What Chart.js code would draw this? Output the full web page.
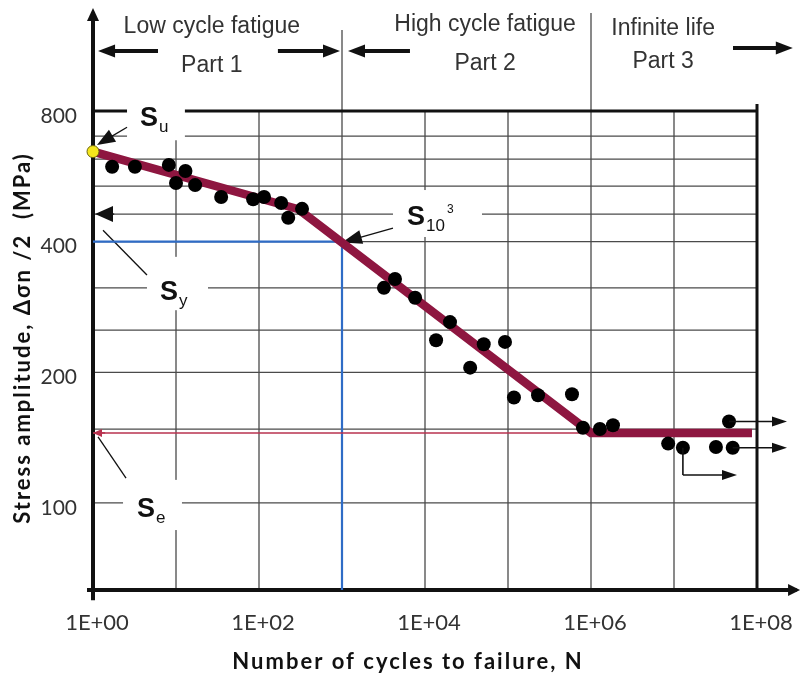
<!DOCTYPE html>
<html>
<head>
<meta charset="utf-8">
<script src="https://cdn.jsdelivr.net/npm/chart.js@4.4.1/dist/chart.umd.min.js"></script>
<style>
  html, body { margin: 0; padding: 0; background: #fff; }
</style>
</head>
<body>
<canvas id="snChart" width="801" height="683"></canvas>
<script>
"use strict";

// ─── Data ────────────────────────────────────────────────
// test results (cycles to failure, stress amplitude in MPa)
const testCycles = [1.7, 3.2, 8.2, 13, 10, 17, 35, 85, 115, 185, 225, 330,
  3200, 4350, 7600, 13600, 20000, 35000, 51000, 92000,
  118000, 230000, 590000, 800000, 1.28e6, 1.84e6,
  8.5e6, 1.28e7, 3.2e7, 5.1e7, 4.6e7];
const testStress = [595, 595, 601, 582, 546, 540, 507, 501, 507, 491, 454, 476,
  313, 328, 297, 237, 261, 205, 232, 235,
  175, 177, 178, 149, 148, 151,
  137, 134, 134.5, 134, 154];

// fitted S-N curve
const curveCycles = [1, 300, 1e6, 8.7e7];
const curveStress = [645, 475, 145, 145];

// ultimate strength point, endurance limit, S at 10^3
const suCycles = [1];
const suStress = [645];
const seCycles = [1, 1e6];
const seStress = [145, 145];
const s1000Cycles = [1, 1e3, 1e3];
const s1000Stress = [400, 400, 63];

// run-out specimens (arrows to the right)
const runoutFrom = [[4.6e7, 154], [5.1e7, 134], [1.28e7, 116]];
const runoutTo = [[2.3e8, 154], [2.3e8, 134], [5.74e7, 116]];

// axes
const xTickValues = [1, 1e2, 1e4, 1e6, 1e8];
const xTickLabels = ["1E+00", "1E+02", "1E+04", "1E+06", "1E+08"];
const yTickValues = [100, 200, 400, 800];
const gridStress = [800, 700, 620, 537, 463, 400, 313, 250, 200, 148, 100];
const gridCycles = [10, 100, 1e3, 1e4, 1e5, 1e6, 1e7];

// ─── Palette ─────────────────────────────────────────────
const COLORS = {
  curve: "#8e1640",
  blue:  "#2f6cc6",
  red:   "#b8324f",
  grid:  "#4a4a4a",
  text:  "#333333",
  ink:   "#111111",
};

const ARIAL = "'Liberation Sans', Arial, sans-serif";
const LATO = "Lato, 'Open Sans', sans-serif";

// ─── Drawing helpers ─────────────────────────────────────
function seg(ctx, x1, y1, x2, y2) {
  ctx.beginPath(); ctx.moveTo(x1, y1); ctx.lineTo(x2, y2); ctx.stroke();
}

function arrow(ctx, x1, y1, x2, y2, len, w) {
  const a = Math.atan2(y2 - y1, x2 - x1);
  const c = Math.cos(a), s = Math.sin(a);
  const bx = x2 - len * c, by = y2 - len * s;
  if (Math.hypot(x2 - x1, y2 - y1) > len) seg(ctx, x1, y1, bx + c, by + s);
  ctx.beginPath();
  ctx.moveTo(x2, y2);
  ctx.lineTo(bx + (w / 2) * s, by - (w / 2) * c);
  ctx.lineTo(bx - (w / 2) * s, by + (w / 2) * c);
  ctx.closePath();
  ctx.fill();
}

function sLabel(ctx, x, y, sub, sup) {
  ctx.fillStyle = COLORS.ink;
  ctx.textAlign = "left";
  ctx.textBaseline = "alphabetic";
  ctx.font = "bold 27px " + ARIAL;
  ctx.fillText("S", x, y);
  const w = ctx.measureText("S").width;
  ctx.font = "17px " + ARIAL;
  ctx.fillText(sub, x + w + 1, y + 6);
  if (sup) {
    const w2 = ctx.measureText(sub).width;
    ctx.font = "12px " + ARIAL;
    ctx.fillText(sup, x + w + w2 + 3, y - 12);
  }
}

// ─── Sketch plugin: grid, axes, notes ────────────────────
const sketchPlugin = {
  id: "sketch",
  beforeDatasetsDraw(chart) {
    const ctx = chart.ctx;
    const X = v => chart.scales.x.getPixelForValue(v);
    const Y = v => chart.scales.y.getPixelForValue(v);
    ctx.save();

    // grid
    ctx.strokeStyle = COLORS.grid;
    ctx.lineWidth = 1.3;
    gridStress.forEach(v => { if (v !== 800) seg(ctx, X(1), Y(v), X(1e8), Y(v)); });
    gridCycles.forEach(n => seg(ctx, X(n), Y(63), X(n), Y(800)));
    // section dividers above the box
    seg(ctx, X(1e3), Y(800), X(1e3), Y(1230));
    seg(ctx, X(1e6), Y(800), X(1e6), Y(1345));

    // box top and right border
    ctx.strokeStyle = COLORS.ink;
    ctx.lineWidth = 3;
    seg(ctx, X(1), Y(800), X(1e8), Y(800));
    seg(ctx, X(1e8), Y(63), X(1e8), Y(830));

    // white boxes behind the S labels
    ctx.fillStyle = "#fff";
    [[2.57, 12.8, 850, 685], [4.47, 24.3, 369, 278],
     [2.3, 11.8, 113, 86.6], [4115, 48600, 526, 410]].forEach(b => {
      ctx.fillRect(X(b[0]), Y(b[2]), X(b[1]) - X(b[0]), Y(b[3]) - Y(b[2]));
    });

    // axes with arrow heads
    ctx.strokeStyle = COLORS.ink;
    ctx.fillStyle = COLORS.ink;
    ctx.lineWidth = 4;
    seg(ctx, X(0.847), Y(63), X(3.0e8), Y(63));
    arrow(ctx, X(3.0e8), Y(63), X(3.3e8), Y(63), 12, 12);
    seg(ctx, X(1), Y(59.7), X(1), Y(1300));
    arrow(ctx, X(1), Y(1300), X(1), Y(1381), 13, 12);

    // section headings
    ctx.fillStyle = COLORS.text;
    ctx.font = "23px " + ARIAL;
    ctx.textAlign = "center";
    ctx.textBaseline = "alphabetic";
    [["Low cycle fatigue", 27, 1210], ["Part 1", 27, 985],
     ["High cycle fatigue", 5.3e4, 1220], ["Part 2", 5.3e4, 995],
     ["Infinite life", 7.4e6, 1200], ["Part 3", 7.4e6, 1005]].forEach(t => {
      ctx.fillText(t[0], X(t[1]), Y(t[2]));
    });
    ctx.fillStyle = COLORS.ink;
    ctx.strokeStyle = COLORS.ink;
    ctx.lineWidth = 4;
    arrow(ctx, X(6.07), Y(1100), X(1.15), Y(1100), 17, 13);
    arrow(ctx, X(169), Y(1100), X(946), Y(1100), 17, 13);
    arrow(ctx, X(6590), Y(1100), X(1181), Y(1100), 17, 13);
    arrow(ctx, X(5.14e7), Y(1118), X(2.7e8), Y(1118), 17, 13);

    // S labels with pointers
    sLabel(ctx, X(3.68), Y(738), "u");
    sLabel(ctx, X(6.42), Y(293), "y");
    sLabel(ctx, X(3.39), Y(92.8), "e");
    sLabel(ctx, X(6070), Y(437), "10", "3");

    ctx.strokeStyle = COLORS.ink;
    ctx.fillStyle = COLORS.ink;
    ctx.lineWidth = 1.3;
    arrow(ctx, X(2.57), Y(734), X(1.117), Y(668), 18, 14);
    arrow(ctx, X(1.8), Y(463), X(1.057), Y(463), 18, 16);
    seg(ctx, X(1.32), Y(425), X(4.47), Y(335));
    arrow(ctx, X(4115), Y(430), X(1000), Y(398), 20, 14);
    seg(ctx, X(1.15), Y(142), X(2.5), Y(114));

    ctx.restore();
  },
  afterDatasetsDraw(chart) {
    const ctx = chart.ctx;
    const X = v => chart.scales.x.getPixelForValue(v);
    const Y = v => chart.scales.y.getPixelForValue(v);
    ctx.save();
    // endurance limit arrow head
    ctx.fillStyle = COLORS.red;
    ctx.strokeStyle = COLORS.red;
    ctx.lineWidth = 1.5;
    arrow(ctx, X(1.4), Y(seStress[0]), X(1), Y(seStress[0]), 9, 8);
    // run-out arrows
    ctx.fillStyle = COLORS.ink;
    ctx.strokeStyle = COLORS.ink;
    ctx.lineWidth = 1.6;
    seg(ctx, X(1.28e7), Y(134), X(1.28e7), Y(116));
    runoutFrom.forEach((p, i) => {
      const q = runoutTo[i];
      arrow(ctx, X(p[0]), Y(p[1]), X(q[0]), Y(q[1]), 15, 10);
    });
    ctx.restore();
  },
};

// axis titles, spaced out like the original
const titlesPlugin = {
  id: "titles",
  afterDraw(chart) {
    const ctx = chart.ctx;
    ctx.save();
    ctx.fillStyle = COLORS.ink;
    ctx.font = "bold 22px " + LATO;
    ctx.textAlign = "center";
    ctx.textBaseline = "middle";
    ctx.letterSpacing = "2px";
    ctx.fillText("Number of cycles to failure, N", 408, 662);
    ctx.translate(23, 338);
    ctx.rotate(-Math.PI / 2);
    ctx.fillText("Stress amplitude, \u0394\u03c3n /2  (MPa)", 0, 0);
    ctx.letterSpacing = "0px";
    ctx.restore();
  },
};

// ─── Chart ───────────────────────────────────────────────
const toXY = (xs, ys) => xs.map((x, i) => ({ x, y: ys[i] }));

new Chart(document.getElementById("snChart"), {
  type: "scatter",
  data: {
    datasets: [
      { // ultimate strength
        data: toXY(suCycles, suStress),
        pointRadius: 6,
        pointBackgroundColor: "#f5e61c",
        pointBorderColor: "#6b6410",
        pointBorderWidth: 1,
        clip: false,
      },
      { // test points
        data: toXY(testCycles, testStress),
        pointRadius: 7,
        pointBackgroundColor: "#000",
        pointBorderWidth: 0,
        clip: false,
      },
      { // S-N curve
        type: "line",
        data: toXY(curveCycles, curveStress),
        borderColor: COLORS.curve,
        borderWidth: 8.5,
        pointRadius: 0,
        tension: 0,
        borderJoinStyle: "miter",
        clip: false,
      },
      { // endurance limit
        type: "line",
        data: toXY(seCycles, seStress),
        borderColor: COLORS.red,
        borderWidth: 1.5,
        pointRadius: 0,
        clip: false,
      },
      { // S at 1000 cycles
        type: "line",
        data: toXY(s1000Cycles, s1000Stress),
        borderColor: COLORS.blue,
        borderWidth: 2.2,
        pointRadius: 0,
        clip: false,
      },
    ],
  },
  options: {
    responsive: false,
    animation: false,
    layout: { padding: { top: 111, right: 44, left: 0, bottom: 0 } },
    plugins: { legend: { display: false }, tooltip: { enabled: false } },
    scales: {
      x: {
        type: "logarithmic",
        min: 1,
        max: 1e8,
        afterFit: s => { s.height = 93; s.paddingLeft = 0; s.paddingRight = 0; },
        afterBuildTicks: s => { s.ticks = xTickValues.map(v => ({ value: v })); },
        grid: { display: false, drawTicks: false },
        border: { display: false },
        ticks: {
          autoSkip: false,
          maxRotation: 0,
          padding: 20,
          labelOffset: 4,
          color: COLORS.text,
          font: { family: LATO, size: 22 },
          callback: (v, i) => xTickLabels[i],
        },
      },
      y: {
        type: "logarithmic",
        min: 63,
        max: 800,
        afterFit: s => { s.width = 93; s.paddingTop = 0; s.paddingBottom = 0; },
        afterBuildTicks: s => { s.ticks = yTickValues.map(v => ({ value: v })); },
        grid: { display: false, drawTicks: false },
        border: { display: false },
        ticks: {
          padding: 16,
          labelOffset: 5,
          color: COLORS.text,
          font: { family: LATO, size: 21 },
          callback: v => String(v),
        },
      },
    },
  },
  plugins: [sketchPlugin, titlesPlugin],
});
</script>
</body>
</html>
